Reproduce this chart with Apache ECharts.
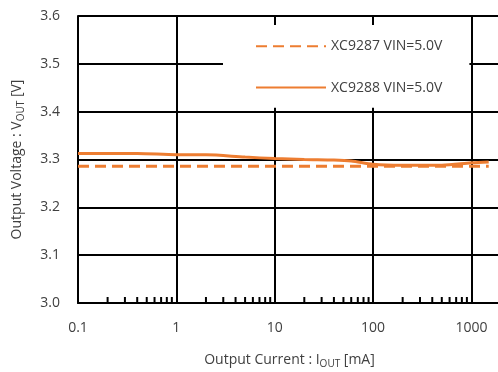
<!DOCTYPE html>
<html>
<head>
<meta charset="utf-8">
<script src="https://cdn.jsdelivr.net/npm/echarts@6/dist/echarts.min.js"></script>
<style>html,body{margin:0;padding:0;background:#fff}#c{width:498px;height:372px}</style>
</head>
<body>
<div id="c"></div>
<script>
var seriesNames = ['XC9287 VIN=5.0V', 'XC9288 VIN=5.0V'];
var xc9287Current = [0.1, 0.3, 1, 3, 10, 30, 100, 300, 1000, 1500];
var xc9287Voltage = [3.286, 3.286, 3.286, 3.286, 3.286, 3.286, 3.286, 3.286, 3.286, 3.286];
var xc9288Current = [0.1, 0.2, 0.4, 1, 2, 5, 10, 20, 40, 60, 100, 200, 500, 1000, 1500];
var xc9288Voltage = [3.3125, 3.3125, 3.3125, 3.310, 3.310, 3.305, 3.302, 3.300, 3.299, 3.297, 3.290, 3.288, 3.288, 3.293, 3.295];
var minorTickValues = [0.2,0.3,0.4,0.5,0.6,0.7,0.8,0.9,2,3,4,5,6,7,8,9,20,30,40,50,60,70,80,90,200,300,400,500,600,700,800,900];
var xTickLabels = ['0.1', '1', '10', '100', '1000'];

function pairs(xs, ys){ return xs.map(function(x,i){return [x, ys[i]];}); }

var FONT = 'Open Sans';
var TXT = '#404040';
var ORANGE = '#ED7D31';
var chart = echarts.init(document.getElementById('c'), null, {renderer:'canvas'});
var nameRich = {
  a: {fontFamily: FONT, fontSize: 14, color: TXT, lineHeight: 18},
  s: {fontFamily: FONT, fontSize: 10, color: TXT, lineHeight: 18, verticalAlign: 'bottom', padding: [7,0,0,0]}
};
chart.setOption({
  animation: false,
  backgroundColor: '#fff',
  textStyle: {fontFamily: FONT},
  grid: {left: 78, top: 16, right: -3, bottom: 69, containLabel: false, outerBoundsMode: 'none'},
  legend: {
    orient: 'vertical', left: 223, top: 25,
    backgroundColor: '#fff',
    padding: [14, 27, 13, 32],
    itemWidth: 70, itemHeight: 18, itemGap: 27,
    itemStyle: {opacity: 0},
    textStyle: {fontFamily: FONT, fontSize: 14, color: TXT},
    data: seriesNames
  },
  xAxis: {
    type: 'log', logBase: 10, min: 0.1, max: 2000,
    name: '{a|Output Current : I}{s|OUT}{a| [mA]}',
    nameLocation: 'middle', nameGap: 48,
    nameTextStyle: {rich: nameRich},
    axisLine: {show: true, lineStyle: {color: '#000', width: 2}},
    axisTick: {show: false},
    axisLabel: {fontFamily: FONT, fontSize: 14, color: TXT, margin: 18,
      formatter: function(v){
        for (var i = 0; i < xTickLabels.length; i++) {
          if (Math.abs(v - parseFloat(xTickLabels[i])) < 1e-6 * parseFloat(xTickLabels[i])) return xTickLabels[i];
        }
        return '';
      }},
    splitLine: {show: true, lineStyle: {color: '#000', width: 2}}
  },
  yAxis: {
    type: 'value', min: 3.0, max: 3.6, interval: 0.1,
    name: '{a|Output Voltage : V}{s|OUT}{a| [V]}',
    nameLocation: 'middle', nameGap: 52, nameRotate: 90,
    nameTextStyle: {rich: nameRich},
    axisLine: {show: true, lineStyle: {color: '#000', width: 2}},
    axisTick: {show: false},
    axisLabel: {fontFamily: FONT, fontSize: 14, color: TXT, margin: 18,
      formatter: function(v){ return v.toFixed(1); }},
    splitLine: {show: true, lineStyle: {color: '#000', width: 2}}
  },
  series: [
    {
      name: seriesNames[0], type: 'line', data: pairs(xc9287Current, xc9287Voltage),
      symbol: 'none', lineStyle: {color: ORANGE, width: 3, type: [11, 6]},
      itemStyle: {color: ORANGE}, z: 3
    },
    {
      name: seriesNames[1], type: 'line', data: pairs(xc9288Current, xc9288Voltage),
      symbol: 'none', smooth: 0.3, lineStyle: {color: ORANGE, width: 3},
      itemStyle: {color: ORANGE}, z: 3
    },
    {
      type: 'custom', silent: true, z: 2,
      data: minorTickValues.map(function(v){ return [v, 3.0]; }),
      renderItem: function(params, api){
        var p = api.coord([api.value(0), api.value(1)]);
        return {type: 'line', shape: {x1: p[0], y1: p[1], x2: p[0], y2: p[1]-6},
          style: {stroke: '#000', lineWidth: 2}};
      }
    }
  ]
});
</script>
</body>
</html>
